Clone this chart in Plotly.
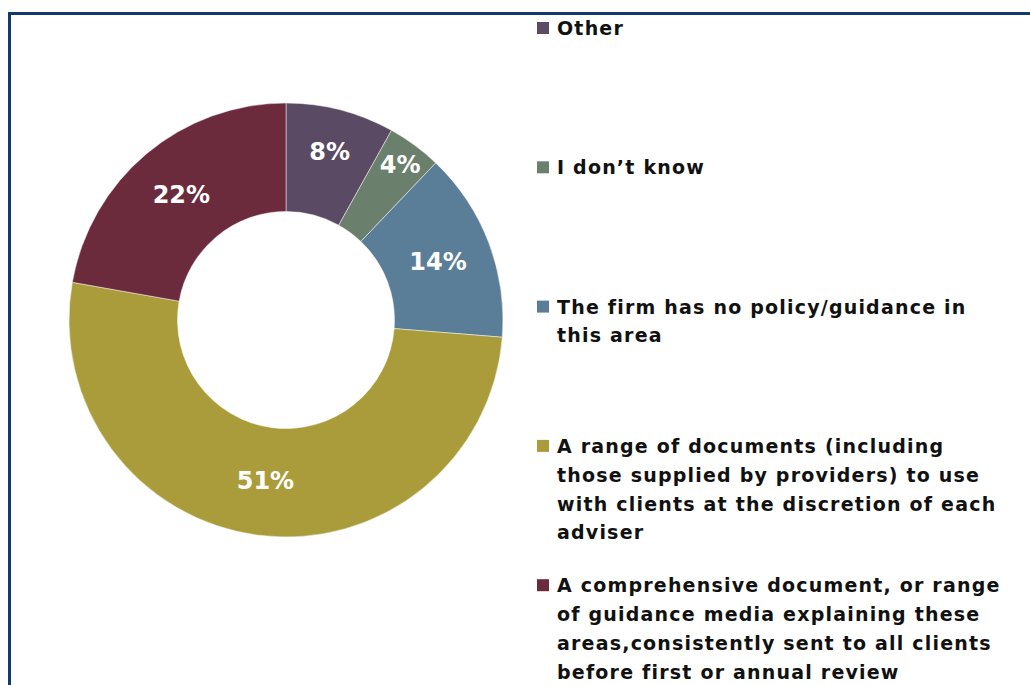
import plotly.graph_objects as go

# Survey answers, listed clockwise from 12 o'clock
labels = [
    "Other",
    "I don\u2019t know",
    "The firm has no policy/guidance in<br>this area",
    "A range of documents (including<br>those supplied by providers) to use<br>with clients at the discretion of each<br>adviser",
    "A comprehensive document, or range<br>of guidance media explaining these<br>areas,consistently sent to all clients<br>before first or annual review",
]
shares = [8, 4, 14, 51, 22]
colors = ["#5b4a63", "#6a806d", "#5a7e98", "#ab9c3b", "#6c2a3d"]

W, H = 1030, 685
FONT = "DejaVu Sans"

fig = go.Figure(
    go.Pie(
        labels=labels,
        values=shares,
        sort=False,
        direction="clockwise",
        rotation=0,
        hole=0.5,
        marker=dict(colors=colors, line=dict(color="rgba(255,255,255,0.6)", width=0.8)),
        texttemplate="%{value}%",
        textposition="inside",
        insidetextorientation="horizontal",
        textfont=dict(family=FONT, size=24, color="white", weight="bold"),
        showlegend=False,
        domain=dict(x=[(286 - 217) / W, (286 + 217) / W],
                    y=[(H - 320 - 217) / H, (H - 320 + 217) / H]),
    )
)

# Hand-built legend: colour square plus wrapped label, one entry every ~139 px
shapes = []
annotations = []
first_y, step, line_h = 28, 139.3, 28.8
for i, (lab, col) in enumerate(zip(labels, colors)):
    y0 = first_y + i * step
    shapes.append(dict(type="rect", xref="paper", yref="paper",
                       x0=537 / W, x1=549 / W,
                       y0=(H - y0 - 6) / H, y1=(H - y0 + 6) / H,
                       fillcolor=col, line=dict(width=0)))
    for j, line in enumerate(lab.split("<br>")):
        annotations.append(dict(text=f'<span style="letter-spacing:1.2px">{line}</span>',
                                xref="paper", yref="paper",
                                x=555 / W, y=(H - (y0 + j * line_h)) / H,
                                xanchor="left", yanchor="middle", showarrow=False,
                                font=dict(family=FONT, size=19, color="#111111", weight="bold")))

# Navy frame running off the right and bottom edges
shapes.append(dict(type="rect", xref="paper", yref="paper",
                   x0=9.5 / W, x1=1.05, y0=-0.05, y1=(H - 13.5) / H,
                   line=dict(color="#123a6b", width=3), fillcolor="rgba(0,0,0,0)", layer="below"))

fig.update_layout(
    width=W, height=H,
    margin=dict(l=0, r=0, t=0, b=0),
    paper_bgcolor="white",
    plot_bgcolor="white",
    shapes=shapes,
    annotations=annotations,
    uniformtext=dict(minsize=24, mode="show"),
)

fig.write_html("out.html")
